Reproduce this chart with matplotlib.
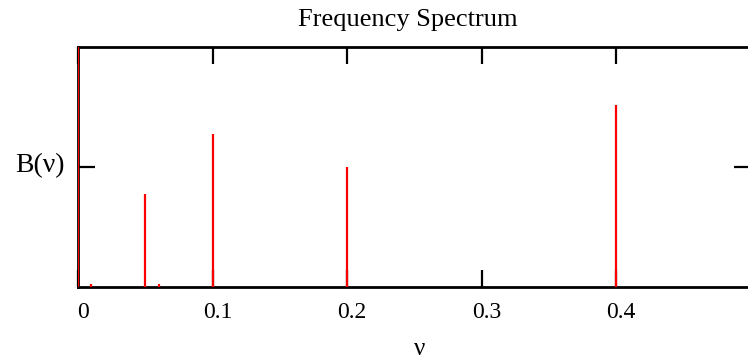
import matplotlib.pyplot as plt
import matplotlib.transforms as mtransforms

# spectral lines
freqs = [0.0, 0.01, 0.05, 0.06, 0.1, 0.2, 0.4]
amps = [2.6, 0.02, 0.77, 0.02, 1.27, 1.0, 1.52]
xticks = [0, 0.1, 0.2, 0.3, 0.4]
xticklabels = ["0", "0.1", "0.2", "0.3", "0.4"]

plt.rcParams["font.family"] = ["Liberation Serif", "DejaVu Serif"]

fig = plt.figure(figsize=(7.48, 3.63), dpi=100)
ax = fig.add_axes([78 / 748, 76.3 / 363, 672.5 / 748, 239.7 / 363])

ax.vlines(freqs, 0, amps, colors="red", linewidth=1.6, zorder=3)

ax.set_xlim(0, 0.5)
ax.set_ylim(0, 2)
ax.set_xticks(xticks)
ax.set_xticklabels(xticklabels, fontsize=17)
ax.set_yticks([1])
ax.set_yticklabels([])
ax.tick_params(axis="both", direction="in", length=12, width=1.6,
               top=True, right=True, color="black")
ax.tick_params(axis="x", pad=11)

# labels sit a few pixels right of their ticks in the reference
offset = mtransforms.ScaledTranslation(5 / 100, 0, fig.dpi_scale_trans)
for lbl in ax.get_xticklabels():
    lbl.set_transform(lbl.get_transform() + offset)

for sp in ax.spines.values():
    sp.set_linewidth(2)
    sp.set_color("black")

fig.text(408 / 748, 1 - 20 / 363, "Frequency Spectrum", fontsize=19,
         ha="center", va="center")
fig.text(420 / 748, 1 - 349 / 363, "ν", fontsize=18, ha="center", va="center")
fig.text(40 / 748, 1 - 166 / 363, "B(ν)", fontsize=20, ha="center", va="center")

fig.savefig("out.png", dpi=100)
